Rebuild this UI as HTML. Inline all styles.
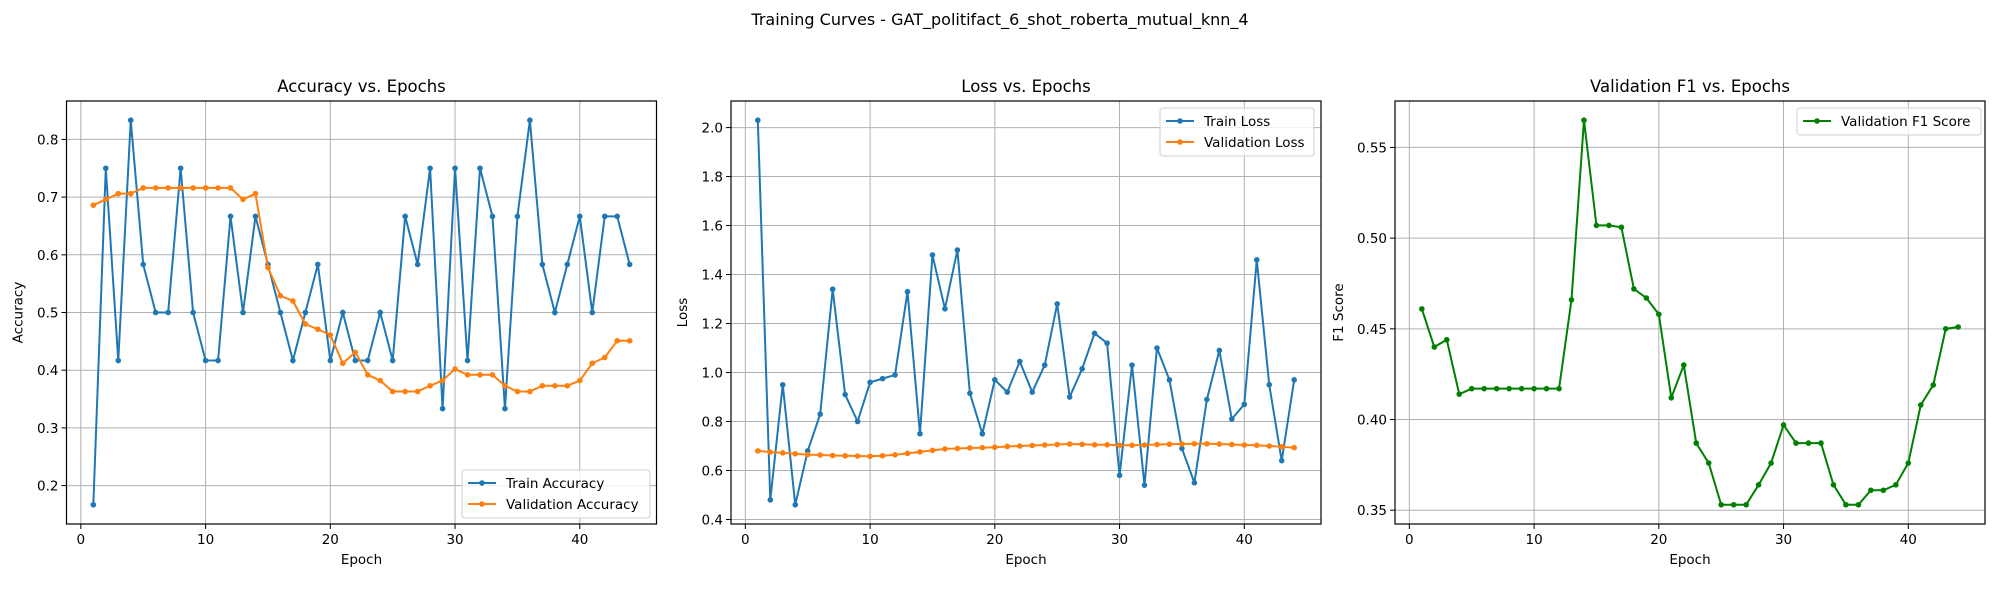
<!DOCTYPE html>
<html><head><meta charset="utf-8"><style>
body{margin:0;background:#fff;}
svg{display:block;font-family:"DejaVu Sans","Liberation Sans",sans-serif;}
</style></head><body>
<svg id="fig" width="2000" height="600" viewBox="0 0 2000 600">
<text x="1000" y="25" text-anchor="middle" font-size="16" fill="#000">Training Curves - GAT_politifact_6_shot_roberta_mutual_knn_4</text>
</svg>
<script>
const epochs = [1,2,3,4,5,6,7,8,9,10,11,12,13,14,15,16,17,18,19,20,21,22,23,24,25,26,27,28,29,30,31,32,33,34,35,36,37,38,39,40,41,42,43,44];
const trainAcc = [0.1667,0.75,0.4167,0.8333,0.5833,0.5,0.5,0.75,0.5,0.4167,0.4167,0.6667,0.5,0.6667,0.5833,0.5,0.4167,0.5,0.5833,0.4167,0.5,0.4167,0.4167,0.5,0.4167,0.6667,0.5833,0.75,0.3333,0.75,0.4167,0.75,0.6667,0.3333,0.6667,0.8333,0.5833,0.5,0.5833,0.6667,0.5,0.6667,0.6667,0.5833];
const valAcc = [0.686,0.696,0.706,0.706,0.716,0.716,0.716,0.716,0.716,0.716,0.716,0.716,0.696,0.706,0.578,0.529,0.520,0.480,0.471,0.461,0.412,0.431,0.392,0.382,0.363,0.363,0.363,0.373,0.382,0.402,0.392,0.392,0.392,0.373,0.363,0.363,0.373,0.373,0.373,0.382,0.412,0.422,0.451,0.451];
const trainLoss = [2.03,0.48,0.95,0.46,0.68,0.83,1.34,0.91,0.80,0.96,0.975,0.99,1.33,0.75,1.48,1.26,1.50,0.915,0.75,0.97,0.92,1.045,0.92,1.03,1.28,0.90,1.015,1.16,1.12,0.58,1.03,0.54,1.10,0.97,0.69,0.55,0.89,1.09,0.81,0.87,1.46,0.95,0.64,0.97];
const valLoss = [0.68,0.675,0.672,0.668,0.665,0.663,0.661,0.66,0.659,0.658,0.66,0.664,0.67,0.676,0.682,0.688,0.69,0.692,0.693,0.695,0.698,0.70,0.702,0.704,0.706,0.708,0.707,0.705,0.705,0.703,0.703,0.704,0.706,0.707,0.708,0.709,0.709,0.708,0.706,0.704,0.703,0.70,0.697,0.693];
const valF1 = [0.461,0.440,0.444,0.414,0.417,0.417,0.417,0.417,0.417,0.417,0.417,0.417,0.466,0.565,0.507,0.507,0.506,0.472,0.467,0.458,0.412,0.430,0.387,0.376,0.353,0.353,0.353,0.364,0.376,0.397,0.387,0.387,0.387,0.364,0.353,0.353,0.361,0.361,0.364,0.376,0.408,0.419,0.450,0.451];
const xTicks = [0,10,20,30,40];
const accTicks = [0.2,0.3,0.4,0.5,0.6,0.7,0.8];
const lossTicks = [0.4,0.6,0.8,1.0,1.2,1.4,1.6,1.8,2.0];
const f1Ticks = [0.35,0.40,0.45,0.50,0.55];

const NS="http://www.w3.org/2000/svg";
const svg=document.getElementById('fig');
function mk(tag,attrs,parent){const e=document.createElementNS(NS,tag);for(const k in attrs)e.setAttribute(k,attrs[k]);(parent||svg).appendChild(e);return e;}

function panel(cfg){
  const L=cfg.left,R=cfg.left+590,T=101,B=524;
  const g=mk('g',{});
  
  
  const all=[].concat(...cfg.series.map(s=>s.values));
  let mn=Math.min(...all),mx=Math.max(...all),sp=mx-mn;
  const ymin=mn-0.05*sp,ymax=mx+0.05*sp;
  const xmin=epochs[0]-0.05*(epochs[epochs.length-1]-epochs[0]);
  const xmax=epochs[epochs.length-1]+0.05*(epochs[epochs.length-1]-epochs[0]);
  const X=v=>L+(v-xmin)/(xmax-xmin)*(R-L);
  const Y=v=>B-(v-ymin)/(ymax-ymin)*(B-T);
  xTicks.forEach(t=>{
    const gl=mk('line',{x1:X(t),x2:X(t),y1:T,y2:B,stroke:'#b0b0b0','stroke-width':1},g);
    
    
    mk('line',{x1:X(t),x2:X(t),y1:B,y2:B+5,stroke:'#000','stroke-width':1},g);
    const tx=mk('text',{x:X(t),y:B+20,'text-anchor':'middle','font-size':13.5},g);
    tx.textContent=t;
    
    
  });
  cfg.ticks.forEach(t=>{
    const gl=mk('line',{x1:L,x2:R,y1:Y(t),y2:Y(t),stroke:'#b0b0b0','stroke-width':1},g);
    
    
    mk('line',{x1:L-5,x2:L,y1:Y(t),y2:Y(t),stroke:'#000','stroke-width':1},g);
    const tx=mk('text',{x:L-8,y:Y(t)+5,'text-anchor':'end','font-size':13.5},g);
    tx.textContent=t.toFixed(cfg.dec);
    
    
  });
  cfg.series.forEach(s=>{
    const pts=epochs.map((e,i)=>X(e)+','+Y(s.values[i])).join(' ');
    const pl=mk('polyline',{points:pts,fill:'none',stroke:s.color,'stroke-width':2},g);
    
    
    epochs.forEach((e,i)=>{
      const c=mk('circle',{cx:X(e),cy:Y(s.values[i]),r:2.8,fill:s.color},g);
      
      
    });
  });
  const fr=mk('rect',{x:L,y:T,width:R-L,height:B-T,fill:'none',stroke:'#000','stroke-width':1.2},g);
  
  
  const ti=mk('text',{x:(L+R)/2,y:T-9,'text-anchor':'middle','font-size':16.5},g);
  ti.textContent=cfg.title;
  
  
  const xl=mk('text',{x:(L+R)/2,y:B+40,'text-anchor':'middle','font-size':13.5},g);
  xl.textContent='Epoch';
  
  
  const yl=mk('text',{x:0,y:0,'text-anchor':'middle','font-size':13.5,transform:`translate(${L-cfg.ylOff},${(T+B)/2}) rotate(-90)`},g);
  yl.textContent=cfg.ylabel;
  
  
  const lg=cfg.legend;
  const lgG=mk('g',{},g);
  
  
  mk('rect',{x:lg.x,y:lg.y,width:lg.w,height:cfg.series.length*21+6,rx:3,fill:'#fff','fill-opacity':0.8,stroke:'#d0d0d0'},lgG);
  cfg.series.forEach((s,i)=>{
    const cy=lg.y+13+i*21;
    mk('line',{x1:lg.x+6,x2:lg.x+34,y1:cy,y2:cy,stroke:s.color,'stroke-width':2},lgG);
    mk('circle',{cx:lg.x+20,cy:cy,r:2.8,fill:s.color},lgG);
    const t=mk('text',{x:lg.x+44,y:cy+5,'font-size':13.5},lgG);
    t.textContent=s.label;
    
    
  });
}
panel({name:'accuracy-panel',left:66.5,title:'Accuracy vs. Epochs',ylabel:'Accuracy',ticks:accTicks,dec:1,ylOff:44,
  series:[{id:'train-accuracy',values:trainAcc,color:'#1f77b4',label:'Train Accuracy'},{id:'validation-accuracy',values:valAcc,color:'#ff7f0e',label:'Validation Accuracy'}],
  legend:{x:462,y:470,w:188}});
panel({name:'loss-panel',left:731,title:'Loss vs. Epochs',ylabel:'Loss',ticks:lossTicks,dec:1,ylOff:44,
  series:[{id:'train-loss',values:trainLoss,color:'#1f77b4',label:'Train Loss'},{id:'validation-loss',values:valLoss,color:'#ff7f0e',label:'Validation Loss'}],
  legend:{x:1160,y:108,w:154}});
panel({name:'f1-panel',left:1395,title:'Validation F1 vs. Epochs',ylabel:'F1 Score',ticks:f1Ticks,dec:2,ylOff:52,
  series:[{id:'validation-f1',values:valF1,color:'#008000',label:'Validation F1 Score'}],
  legend:{x:1797,y:108,w:184}});
</script>
</body></html>
